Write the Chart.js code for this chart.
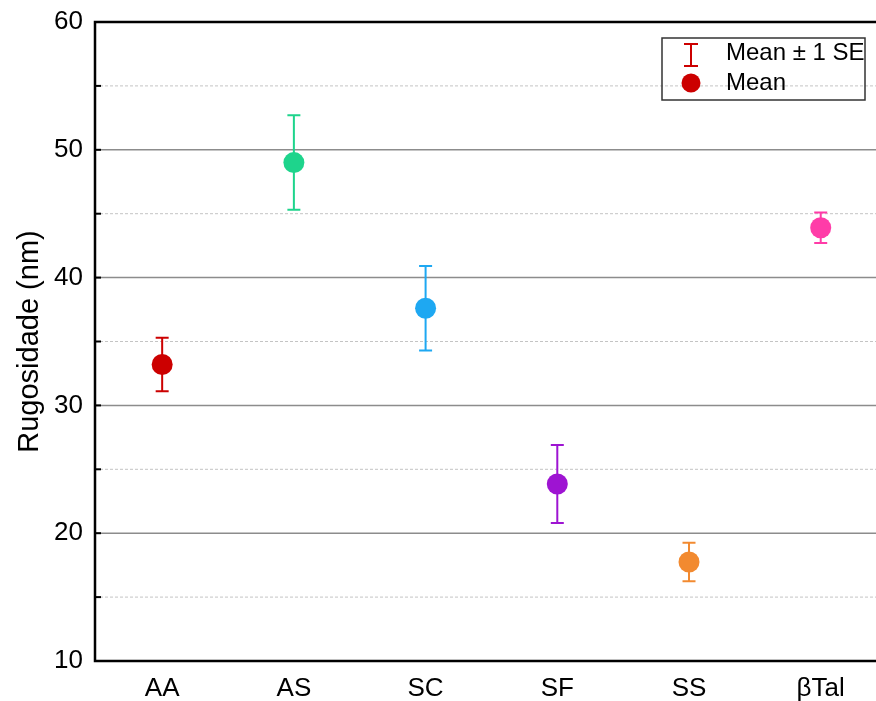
<!DOCTYPE html>
<html>
<head>
<meta charset="utf-8">
<script src="https://cdn.jsdelivr.net/npm/chart.js@4"></script>
<style>
  body { margin: 0; background: #fff; }
  #wrap { width: 876px; height: 701px; position: relative; }
</style>
</head>
<body>
<div id="wrap"><canvas id="chart"></canvas></div>
<script>
const categories = ["AA", "AS", "SC", "SF", "SS", "\u03b2Tal"];
const means = [33.2, 49.0, 37.6, 23.85, 17.75, 43.9];
const se = [2.1, 3.7, 3.3, 3.05, 1.5, 1.2];
const colors = ["#cc0000", "#1ed48c", "#1ea8f2", "#9e14d2", "#f28a30", "#ff3ca8"];
const yTicks = [10, 20, 30, 40, 50, 60];

const FONT = "'Liberation Sans', Arial, sans-serif";

// grid, frame and error bars (plot runs off the right edge like the original)
const decorations = {
  id: "decorations",
  beforeDatasetsDraw(chart) {
    const { ctx, chartArea: a, scales: { x, y } } = chart;
    const right = chart.width;
    ctx.save();
    for (let v = 15; v < 60; v += 5) {
      const py = y.getPixelForValue(v);
      ctx.beginPath();
      if (v % 10 === 0) {
        ctx.strokeStyle = "#8c8c8c";
        ctx.lineWidth = 1.5;
        ctx.setLineDash([]);
      } else {
        ctx.strokeStyle = "#c4c4c4";
        ctx.lineWidth = 1;
        ctx.setLineDash([3, 2]);
      }
      ctx.moveTo(a.left, py);
      ctx.lineTo(right, py);
      ctx.stroke();
      // inward tick
      ctx.setLineDash([]);
      ctx.strokeStyle = "#000";
      ctx.lineWidth = 2;
      ctx.beginPath();
      ctx.moveTo(a.left, py);
      ctx.lineTo(a.left + 6, py);
      ctx.stroke();
    }
    // frame
    ctx.strokeStyle = "#000";
    ctx.lineWidth = 2.5;
    ctx.beginPath();
    ctx.moveTo(right, a.top);
    ctx.lineTo(a.left, a.top);
    ctx.lineTo(a.left, a.bottom);
    ctx.lineTo(right, a.bottom);
    ctx.stroke();
    // error bars
    ctx.lineWidth = 2;
    means.forEach((m, i) => {
      const px = x.getPixelForValue(i);
      const top = y.getPixelForValue(m + se[i]);
      const bot = y.getPixelForValue(m - se[i]);
      ctx.strokeStyle = colors[i];
      ctx.beginPath();
      ctx.moveTo(px, top); ctx.lineTo(px, bot);
      ctx.moveTo(px - 6.5, top); ctx.lineTo(px + 6.5, top);
      ctx.moveTo(px - 6.5, bot); ctx.lineTo(px + 6.5, bot);
      ctx.stroke();
    });
    ctx.restore();
  },
  afterDraw(chart) {
    const ctx = chart.ctx;
    ctx.save();
    // legend box
    ctx.strokeStyle = "#333";
    ctx.lineWidth = 1.5;
    ctx.strokeRect(662, 38, 203, 62);
    ctx.strokeStyle = "#cc0000";
    ctx.lineWidth = 2;
    ctx.beginPath();
    ctx.moveTo(691, 44); ctx.lineTo(691, 66);
    ctx.moveTo(684, 44); ctx.lineTo(698, 44);
    ctx.moveTo(684, 66); ctx.lineTo(698, 66);
    ctx.stroke();
    ctx.fillStyle = "#cc0000";
    ctx.beginPath();
    ctx.arc(691, 83, 9.5, 0, Math.PI * 2);
    ctx.fill();
    ctx.fillStyle = "#000";
    ctx.font = "24px " + FONT;
    ctx.textBaseline = "middle";
    ctx.fillText("Mean \u00b1 1 SE", 726, 53);
    ctx.fillText("Mean", 726, 83);
    ctx.restore();
  }
};

new Chart(document.getElementById("chart"), {
  type: "scatter",
  data: {
    datasets: [{
      label: "Mean",
      data: categories.map((c, i) => ({ x: i, y: means[i] })),
      pointBackgroundColor: colors,
      pointBorderWidth: 0,
      pointRadius: 10.5,
      pointHoverRadius: 10.5
    }]
  },
  options: {
    responsive: true,
    maintainAspectRatio: false,
    animation: false,
    layout: { padding: { top: 22, right: 0, left: 0, bottom: 0 } },
    plugins: { legend: { display: false }, tooltip: { enabled: false } },
    scales: {
      x: {
        type: "linear",
        min: -0.51,
        max: 5.34,
        grid: { display: false },
        border: { display: false },
        afterBuildTicks: s => { s.ticks = categories.map((c, i) => ({ value: i })); },
        afterFit: s => { s.height = 40; s.paddingLeft = 0; s.paddingRight = 0; },
        ticks: {
          autoSkip: false,
          maxRotation: 0,
          padding: 4,
          color: "#000",
          font: { family: FONT, size: 26 },
          callback: v => categories[v]
        }
      },
      y: {
        min: 10,
        max: 60,
        grid: { display: false },
        border: { display: false },
        afterBuildTicks: s => { s.ticks = yTicks.map(v => ({ value: v })); },
        afterFit: s => { s.width = 95; s.paddingTop = 0; s.paddingBottom = 0; },
        ticks: {
          padding: 4,
          color: "#000",
          font: { family: FONT, size: 26 }
        },
        title: {
          display: true,
          text: "Rugosidade (nm)",
          color: "#000",
          font: { family: FONT, size: 29 },
          padding: { top: 13, bottom: 0 }
        }
      }
    }
  },
  plugins: [decorations]
});
</script>
</body>
</html>
